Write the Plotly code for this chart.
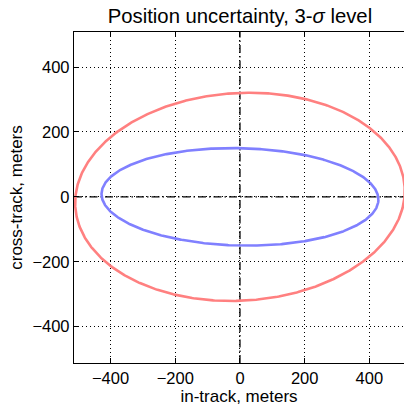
import numpy as np
import plotly.graph_objects as go

# Ellipse parameters (semi-axes in meters, tilt in degrees)
ellipse_names = ["outer", "inner"]
semi_major = [510, 428]
semi_minor = [320, 150]
tilt_deg = [3.4, -1.3]
colors = ["rgb(255,128,128)", "rgb(128,128,255)"]

x_ticks = [-400, -200, 0, 200, 400]
y_ticks = [-400, -200, 0, 200, 400]

t = np.linspace(0, 2 * np.pi, 721)
fig = go.Figure()
for name, a, b, ang, c in zip(ellipse_names, semi_major, semi_minor, tilt_deg, colors):
    th = np.deg2rad(ang)
    x = a * np.cos(t) * np.cos(th) - b * np.sin(t) * np.sin(th)
    y = a * np.cos(t) * np.sin(th) + b * np.sin(t) * np.cos(th)
    fig.add_trace(go.Scatter(x=x, y=y, mode="lines", name=name,
                             line=dict(color=c, width=2.6), hoverinfo="skip"))

# dash-dot axes through the origin
dd = "8px,3px,1.5px,3px"
fig.add_shape(type="line", xref="paper", yref="y", x0=0, x1=1, y0=0, y1=0,
              line=dict(color="black", width=1.3, dash=dd), layer="below")
fig.add_shape(type="line", xref="x", yref="paper", x0=0, x1=0, y0=0, y1=1,
              line=dict(color="black", width=1.3, dash=dd), layer="below")

font_family = "Liberation Sans, Arial, sans-serif"
grid_dash = "1px,3px"
fig.update_layout(
    width=404, height=407,
    margin=dict(l=74, r=0, t=32, b=44),
    plot_bgcolor="white", paper_bgcolor="white",
    showlegend=False,
    font=dict(family=font_family, size=16, color="black"),
    title=dict(text="Position uncertainty, 3-<i>σ</i> level", x=0.594, xanchor="center",
               y=0.96, yanchor="middle", font=dict(size=20.3, color="black")),
    xaxis=dict(range=[-513, 507], tickvals=x_ticks, showgrid=True,
               gridcolor="black", griddash=grid_dash, gridwidth=1,
               zeroline=False, showline=True, linecolor="black", linewidth=1.3,
               mirror="ticks", ticks="inside", ticklen=5, tickcolor="black",
               title=dict(text="in-track, meters", standoff=4, font=dict(size=17)),
               tickfont=dict(size=16.5)),
    yaxis=dict(range=[-512, 508], tickvals=y_ticks, showgrid=True,
               gridcolor="black", griddash=grid_dash, gridwidth=1,
               zeroline=False, showline=True, linecolor="black", linewidth=1.3,
               ticks="inside", ticklen=5, tickcolor="black",
               title=dict(text="cross-track, meters", standoff=5, font=dict(size=17)),
               tickfont=dict(size=16.5)),
)

fig.write_html("out.html", config={"displayModeBar": False},
               post_script="document.body.style.margin='0';document.body.style.overflow='hidden';")
